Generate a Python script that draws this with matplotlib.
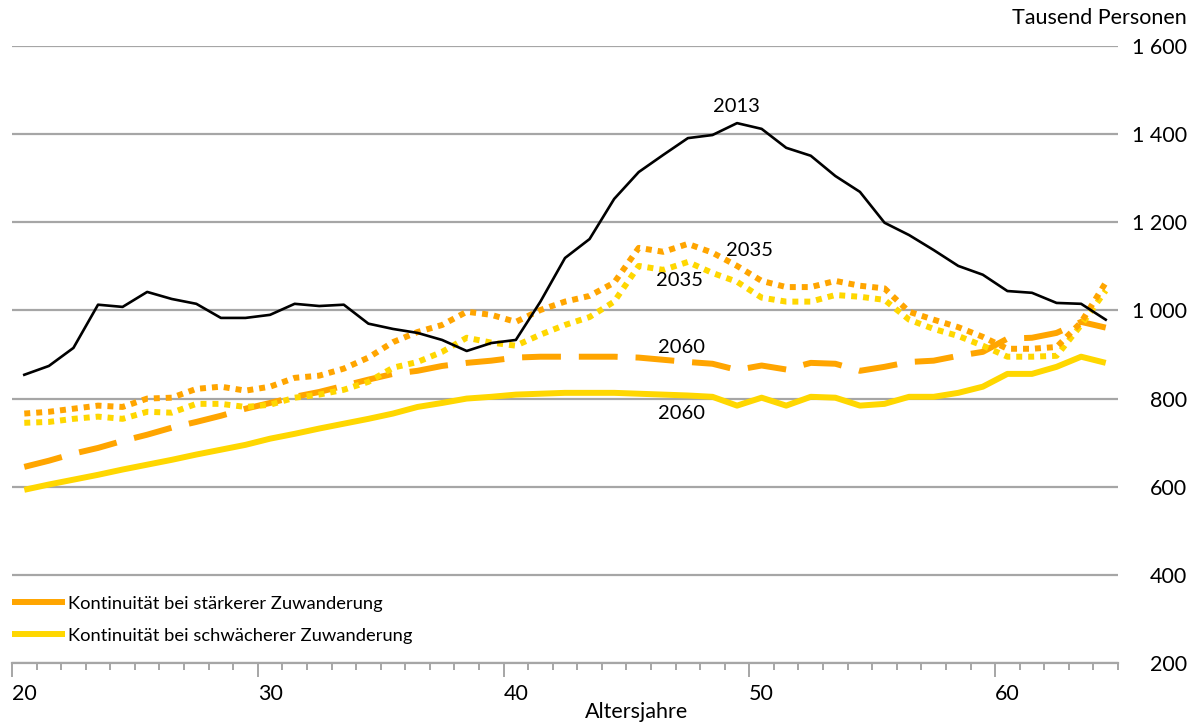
import numpy as np
import matplotlib
matplotlib.use("Agg")
import matplotlib.pyplot as plt
from matplotlib.lines import Line2D

plt.rcParams['font.family'] = ['Lato', 'DejaVu Sans']

# Altersjahre 20 bis 64
ages = list(range(20, 65))

# Bevölkerung 2013 (Tausend Personen)
pop_2013 = [854, 874, 915, 1013, 1008, 1042, 1026, 1015, 983, 983,
            990, 1015, 1010, 1013, 970, 958, 949, 933, 908, 926,
            933, 1020, 1119, 1162, 1253, 1314, 1353, 1391, 1398, 1425,
            1412, 1369, 1351, 1305, 1269, 1199, 1171, 1137, 1101, 1081,
            1044, 1040, 1017, 1015, 979]

# 2035, Kontinuität bei stärkerer Zuwanderung
pop_2035_strong = [766, 770, 777, 784, 781, 800, 802, 822, 827, 818,
                   827, 847, 852, 868, 893, 928, 951, 967, 997, 990,
                   974, 1001, 1020, 1033, 1063, 1142, 1133, 1151, 1131, 1101,
                   1067, 1053, 1053, 1067, 1056, 1050, 997, 979, 962, 940,
                   913, 913, 917, 973, 1063]

# 2035, Kontinuität bei schwächerer Zuwanderung
pop_2035_weak = [745, 747, 754, 759, 754, 770, 768, 788, 788, 781,
                 786, 802, 809, 820, 838, 870, 883, 906, 938, 927,
                 920, 945, 967, 985, 1020, 1101, 1092, 1110, 1085, 1065,
                 1029, 1020, 1020, 1035, 1031, 1024, 979, 958, 942, 920,
                 895, 895, 897, 967, 1045]

# 2060, Kontinuität bei stärkerer Zuwanderung
pop_2060_strong = [645, 659, 675, 688, 704, 718, 734, 747, 761, 777,
                   790, 804, 815, 829, 843, 856, 863, 874, 881, 886,
                   893, 895, 895, 895, 895, 893, 888, 883, 879, 865,
                   875, 866, 881, 879, 863, 872, 883, 886, 897, 906,
                   936, 938, 949, 974, 961]

# 2060, Kontinuität bei schwächerer Zuwanderung
pop_2060_weak = [593, 605, 616, 627, 639, 650, 661, 673, 684, 695,
                 709, 720, 732, 743, 754, 766, 781, 790, 800, 804,
                 809, 811, 813, 813, 813, 811, 809, 807, 804, 784,
                 802, 784, 804, 802, 784, 788, 804, 804, 813, 827,
                 856, 856, 872, 895, 881]

y_ticks = [200, 400, 600, 800, 1000, 1200, 1400, 1600]
y_tick_labels = ["200", "400", "600", "800", "1 000", "1 200", "1 400", "1 600"]
x_label_ages = [20, 30, 40, 50, 60]

legend_labels = ["Kontinuität bei stärkerer Zuwanderung",
                 "Kontinuität bei schwächerer Zuwanderung"]

ORANGE = '#FFA500'
YELLOW = '#FFD700'
GRID = '#a6a6a6'

W, H = 1197, 724
fig = plt.figure(figsize=(W / 100, H / 100), dpi=100)
ax = fig.add_axes([12 / W, 61 / H, 1106 / W, 617 / H])

# Werte liegen jeweils mittig zwischen den Teilstrichen
x = np.array(ages) + 0.5

ax.plot(x, pop_2060_weak, color=YELLOW, lw=4.3, solid_capstyle='butt', zorder=3)
ax.plot(x, pop_2060_strong, color=ORANGE, lw=4.3, linestyle=(0, (6.5, 3)),
        dash_capstyle='butt', zorder=3)
ax.plot(x, pop_2035_weak, color=YELLOW, lw=4.3, linestyle=(0, (1, 1)),
        dash_capstyle='butt', zorder=3)
ax.plot(x, pop_2035_strong, color=ORANGE, lw=4.3, linestyle=(0, (1, 1)),
        dash_capstyle='butt', zorder=3)
ax.plot(x, pop_2013, color='black', lw=1.9, zorder=4)

ax.set_xlim(20, 65)
ax.set_ylim(200, 1600)

# Gitternetz und Achsen
ax.set_yticks(y_ticks)
ax.set_yticklabels(y_tick_labels)
ax.yaxis.grid(True, color=GRID, lw=1.6)
ax.set_axisbelow(True)
for side in ['top', 'left', 'right']:
    ax.spines[side].set_visible(False)
ax.spines['bottom'].set_color(GRID)
ax.spines['bottom'].set_linewidth(1.6)

ax.yaxis.tick_right()
ax.tick_params(axis='y', length=0, pad=49.5, labelsize=15.5, labelcolor='black')
for lab in ax.get_yticklabels():
    lab.set_horizontalalignment('right')

ax.set_xticks(x_label_ages)
ax.set_xticks(range(20, 66), minor=True)
ax.tick_params(axis='x', which='major', length=10, width=1.4, color=GRID,
               labelbottom=False)
ax.tick_params(axis='x', which='minor', length=5, width=1.4, color=GRID)

sec = ax.secondary_xaxis('bottom')
sec.set_xticks([a + 0.5 for a in x_label_ages])
sec.set_xticklabels([str(a) for a in x_label_ages])
sec.tick_params(length=0, pad=15, labelsize=15.5)
sec.spines['bottom'].set_visible(False)

# Beschriftungen
fig.text(1187 / W, 1 - 18 / H, "Tausend Personen", ha='right', va='center', fontsize=15.5)
fig.text(637 / W, 1 - 712 / H, "Altersjahre", ha='center', va='center', fontsize=15.5)

ax.text(49.47, 1462, "2013", ha='center', va='center', fontsize=14.5)
ax.text(50.0, 1137, "2035", ha='center', va='center', fontsize=14.5)
ax.text(47.15, 1067, "2035", ha='center', va='center', fontsize=14.5)
ax.text(47.24, 915, "2060", ha='center', va='center', fontsize=14.5)
ax.text(47.24, 766, "2060", ha='center', va='center', fontsize=14.5)

handles = [Line2D([], [], color=ORANGE, lw=4.3, solid_capstyle='butt'),
           Line2D([], [], color=YELLOW, lw=4.3, solid_capstyle='butt')]
ax.legend(handles, legend_labels, loc='upper left', bbox_to_anchor=(0, 0.109),
          frameon=False, fontsize=13.2, handlelength=2.9, handletextpad=0.15,
          borderpad=0, borderaxespad=0, labelspacing=0.86)

fig.savefig("out.png", dpi=100)
